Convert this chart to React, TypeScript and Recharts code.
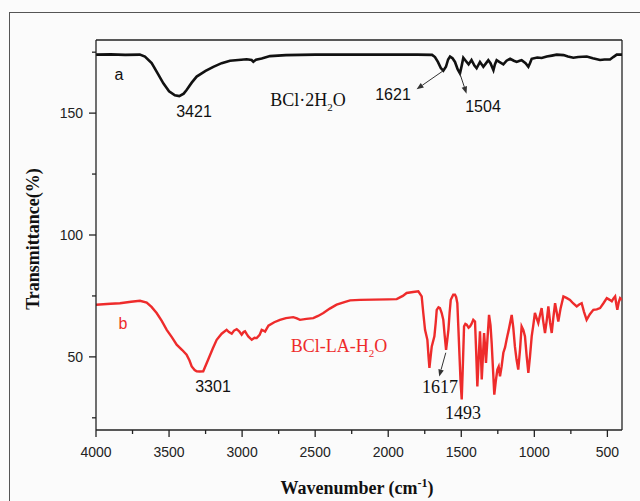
import { LineChart, Line, XAxis, YAxis, ReferenceLine } from 'recharts'

// FTIR spectra, wavenumber (cm-1) vs transmittance (%)
const wnA = [
  4000, 3900, 3800, 3700, 3665, 3619, 3580, 3539, 3500, 3460, 3430, 3400, 3380, 3345, 3311, 3250, 3197, 3140, 3083,
  2969, 2935, 2923, 2905, 2866, 2809, 2700, 2500, 2200, 2000, 1800, 1700, 1680, 1660, 1640, 1623, 1605, 1590, 1577,
  1560, 1543, 1525, 1509, 1497, 1486, 1470, 1450, 1430, 1410, 1395, 1372, 1360, 1349, 1330, 1315, 1300, 1280, 1270,
  1258, 1240, 1212, 1190, 1166, 1140, 1121, 1100, 1087, 1060, 1041, 1030, 1018, 980, 950, 915, 880, 847, 800, 770,
  733, 700, 641, 600, 550, 520, 482, 460, 436, 400,
]
const tA = [
  174, 174.1, 173.9, 174, 173.2, 170.5, 166.5, 162.2, 159, 157.3, 157, 158, 159.5, 162.5, 165, 167.3, 169, 170.5, 171.5,
  172.1, 171.8, 171.1, 171.9, 172.4, 173.4, 173.8, 174, 174, 174, 174, 173.9, 173, 171, 168.5, 167.4, 169, 172, 173.2,
  172.5, 171, 168, 166.3, 169.5, 172.7, 171.5, 170, 171.8, 169.5, 168.4, 171, 170, 169, 170.5, 171.7, 170.5, 167.6, 170,
  171.7, 171, 170, 171.5, 172.3, 171.5, 171, 171.5, 171.7, 170.5, 169, 170.5, 172.3, 172.8, 172.6, 173.2, 173.6, 174, 173.8, 173.2,
  172.7, 173, 173.2, 172.5, 171.8, 172, 172, 173, 174, 174,
]

const wnB = [
  4000, 3900, 3836, 3760, 3699, 3653, 3620, 3585, 3550, 3516, 3480, 3448, 3410, 3380, 3360, 3345, 3325, 3311, 3290, 3266,
  3232, 3200, 3174, 3140, 3106, 3090, 3071, 3055, 3037, 3020, 3003, 2990, 2980, 2968, 2958, 2934, 2915, 2900, 2880, 2866,
  2855, 2843, 2820, 2780, 2741, 2700, 2650, 2625, 2604, 2560, 2513, 2480, 2444, 2400, 2353, 2300, 2261, 2193, 2100, 2000,
  1942, 1900, 1874, 1830, 1794, 1771, 1760, 1748, 1732, 1724, 1718, 1710, 1702, 1684, 1675, 1668, 1656, 1646, 1634, 1623,
  1614, 1604, 1596, 1588, 1580, 1572, 1555, 1543, 1535, 1527, 1520, 1513, 1505, 1497, 1490, 1481, 1472, 1463, 1450, 1440,
  1430, 1418, 1406, 1398, 1390, 1382, 1372, 1366, 1360, 1352, 1344, 1338, 1331, 1320, 1310, 1300, 1292, 1283, 1274, 1264,
  1253, 1244, 1235, 1224, 1212, 1200, 1190, 1172, 1155, 1144, 1133, 1122, 1110, 1098, 1087, 1075, 1064, 1052, 1041, 1030,
  1018, 1007, 996, 985, 973, 962, 950, 940, 927, 915, 904, 892, 881, 870, 858, 846, 836, 820, 801, 780,
  756, 735, 710, 693, 676, 660, 642, 620, 596, 573, 550, 527, 504, 487, 470, 458, 447, 440, 432, 422,
  413, 400,
]
const tB = [
  71.4, 71.8, 72, 72.6, 73, 72.3, 70.5, 68, 64.8, 61.1, 58, 55, 52.8, 50.9, 48.5, 46.1, 44.6, 44.1, 44, 44.1,
  48.9, 53.5, 57, 59.5, 61.1, 60.2, 59.5, 60.8, 61.4, 60.5, 59.1, 60.2, 60.5, 59.3, 58.4, 57, 57.8, 57.7, 59, 61.1,
  60.8, 60.4, 62.8, 64.2, 65.2, 65.9, 66.3, 65.8, 65.2, 65.6, 65.9, 66.8, 68, 69.8, 71.4, 72.5, 73.2, 73.4, 73.5, 73.6,
  73.7, 75, 76.2, 76.6, 76.9, 74.8, 68, 61.1, 57, 50, 45.5, 50, 54.3, 58.4, 64, 69.3, 70.3, 70, 68, 65.2,
  59, 52.9, 57, 61.1, 68, 73.4, 75.5, 75.5, 74.5, 72, 62, 51.7, 40, 32.5, 45, 62.5, 63.5, 63.2, 62, 62.5,
  63.5, 65.2, 64.5, 52, 37.9, 48, 60.5, 52, 40.7, 50, 59.8, 55, 47.5, 58, 67.2, 63, 55.7, 45, 34.5, 40,
  44.8, 46, 42, 46, 51.7, 54, 57, 62, 67.2, 62, 54.3, 49, 44.8, 53, 62.5, 61, 58.4, 50, 43.4, 50,
  58.4, 63, 68, 66, 63.9, 67, 70, 65, 59.8, 65, 70.7, 64, 59.8, 66, 72, 68, 64.5, 70, 74.8, 74.2,
  73.4, 72, 70.7, 71.5, 72, 68.5, 65.2, 67.5, 69.3, 69.5, 70, 72, 74.1, 73.5, 72.8, 74, 74.8, 72, 69.3, 72.5,
  74.1, 73.4,
]

const xTicks = [4000, 3750, 3500, 3250, 3000, 2750, 2500, 2250, 2000, 1750, 1500, 1250, 1000, 750, 500]
const yTicks = [25, 50, 75, 100, 125, 150, 175]

const seriesA = wnA.map((wn, i) => ({ wn, t: tA[i] }))
const seriesB = wnB.map((wn, i) => ({ wn, t: tB[i] }))

const PLOT_LEFT = 96
const PLOT_BOTTOM = 430
const AXIS = '#222'
const RED = '#ee2b2b'
const sans = '"Liberation Sans", Arial, sans-serif'
const serif = '"Liberation Serif", "Times New Roman", serif'

function XTick({ x, payload }: any) {
  const major = payload.value % 500 === 0
  return (
    <g>
      <line x1={x} x2={x} y1={PLOT_BOTTOM} y2={PLOT_BOTTOM + (major ? 7 : 4)} stroke={AXIS} strokeWidth={1.3} />
      {major && (
        <text x={x} y={PLOT_BOTTOM + 27} textAnchor="middle" fontSize={14} fontFamily={sans} fill="#222">
          {payload.value}
        </text>
      )}
    </g>
  )
}

function YTick({ y, payload }: any) {
  const major = payload.value % 50 === 0
  return (
    <g>
      <line x1={PLOT_LEFT - (major ? 7 : 4)} x2={PLOT_LEFT} y1={y} y2={y} stroke={AXIS} strokeWidth={1.3} />
      {major && (
        <text x={PLOT_LEFT - 13} y={y + 5} textAnchor="end" fontSize={14} fontFamily={sans} fill="#222">
          {payload.value}
        </text>
      )}
    </g>
  )
}

function Arrow(props: any) {
  const { x1, y1, x2, y2 } = props
  const ang = Math.atan2(y2 - y1, x2 - x1)
  const bx = x2 - 7 * Math.cos(ang)
  const by = y2 - 7 * Math.sin(ang)
  const px = -Math.sin(ang) * 2.8
  const py = Math.cos(ang) * 2.8
  return (
    <g>
      <line x1={x1} y1={y1} x2={bx} y2={by} stroke="#333" strokeWidth={1} />
      <polygon points={`${x2},${y2} ${bx + px},${by + py} ${bx - px},${by - py}`} fill="#333" />
    </g>
  )
}

function Note({ x, y, children, style }: any) {
  return (
    <div
      style={{
        position: 'absolute',
        left: x,
        top: y,
        transform: 'translate(-50%, -50%)',
        whiteSpace: 'nowrap',
        lineHeight: 1,
        ...style,
      }}
    >
      {children}
    </div>
  )
}

export default function App() {
  return (
    <div
      style={{
        position: 'fixed',
        left: 0,
        top: 0,
        width: 640,
        height: 501,
        overflow: 'hidden',
        background: '#fbfbfb',
      }}
    >
      <div
        style={{
          position: 'absolute',
          left: 9,
          top: 12,
          width: 660,
          height: 520,
          border: '1px solid #555',
        }}
      />
      <LineChart width={640} height={501} data={seriesA} margin={{ top: 40, right: 18, bottom: 41, left: 36 }}>
        <XAxis
          type="number"
          dataKey="wn"
          domain={[400, 4000]}
          reversed
          allowDataOverflow
          ticks={xTicks}
          interval={0}
          height={30}
          tickLine={false}
          axisLine={{ stroke: AXIS, strokeWidth: 1.3 }}
          tick={<XTick />}
        />
        <YAxis
          type="number"
          domain={[20, 180]}
          allowDataOverflow
          ticks={yTicks}
          interval={0}
          width={60}
          tickLine={false}
          axisLine={{ stroke: AXIS, strokeWidth: 1.3 }}
          tick={<YTick />}
        />
        <ReferenceLine y={180} stroke={AXIS} strokeWidth={1.3} />
        <ReferenceLine x={400} stroke={AXIS} strokeWidth={1.3} />
        <Line
          data={seriesA}
          dataKey="t"
          type="linear"
          stroke="#111"
          strokeWidth={2.6}
          dot={false}
          isAnimationActive={false}
        />
        <Line
          data={seriesB}
          dataKey="t"
          type="linear"
          stroke={RED}
          strokeWidth={2.4}
          dot={false}
          isAnimationActive={false}
        />
        <ReferenceLine segment={[{ x: 1623, y: 167.4 }, { x: 1806, y: 159.8 }]} shape={<Arrow />} />
        <ReferenceLine segment={[{ x: 1510, y: 166.3 }, { x: 1464, y: 158 }]} shape={<Arrow />} />
        <ReferenceLine segment={[{ x: 1606, y: 51.7 }, { x: 1651, y: 42 }]} shape={<Arrow />} />
      </LineChart>

      <Note x={119} y={75} style={{ fontFamily: sans, fontSize: 16, color: '#111' }}>a</Note>
      <Note x={194} y={112} style={{ fontFamily: sans, fontSize: 16, color: '#111' }}>3421</Note>
      <Note x={308} y={102} style={{ fontFamily: serif, fontSize: 18, color: '#111' }}>
        BCl·2H<sub style={{ fontSize: 11 }}>2</sub>O
      </Note>
      <Note x={393} y={95} style={{ fontFamily: sans, fontSize: 16, color: '#111' }}>1621</Note>
      <Note x={483} y={107} style={{ fontFamily: sans, fontSize: 16, color: '#111' }}>1504</Note>

      <Note x={123} y={324} style={{ fontFamily: sans, fontSize: 16, color: RED }}>b</Note>
      <Note x={213} y={387} style={{ fontFamily: sans, fontSize: 16, color: '#111' }}>3301</Note>
      <Note x={339} y={348} style={{ fontFamily: serif, fontSize: 18, color: RED }}>
        BCl-LA-H<sub style={{ fontSize: 11 }}>2</sub>O
      </Note>
      <Note x={440} y={387} style={{ fontFamily: serif, fontSize: 18, color: '#111' }}>1617</Note>
      <Note x={463} y={413} style={{ fontFamily: serif, fontSize: 18, color: '#111' }}>1493</Note>

      <Note
        x={33}
        y={239}
        style={{ fontFamily: serif, fontSize: 18, fontWeight: 'bold', color: '#111', transform: 'translate(-50%, -50%) rotate(-90deg)' }}
      >
        Transmittance(%)
      </Note>
      <Note x={357} y={487} style={{ fontFamily: serif, fontSize: 18, fontWeight: 'bold', color: '#111' }}>
        Wavenumber (cm<sup style={{ fontSize: 12 }}>-1</sup>)
      </Note>
    </div>
  )
}
